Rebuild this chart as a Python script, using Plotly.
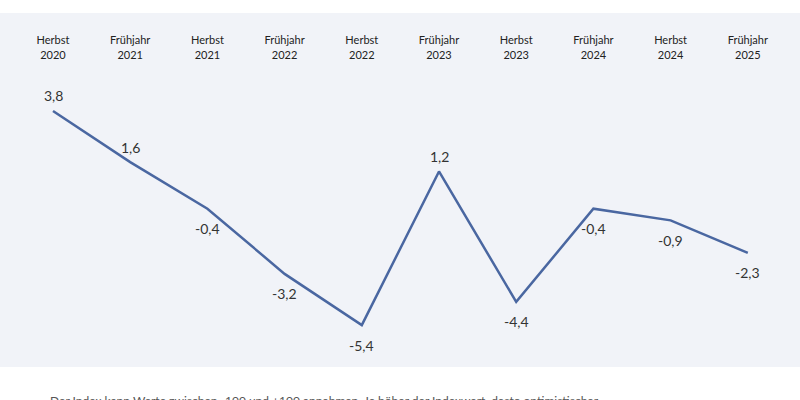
import plotly.graph_objects as go

seasons = ["Herbst", "Frühjahr", "Herbst", "Frühjahr", "Herbst", "Frühjahr", "Herbst", "Frühjahr", "Herbst", "Frühjahr"]
years = ["2020", "2021", "2021", "2022", "2022", "2023", "2023", "2024", "2024", "2025"]
values = [3.8, 1.6, -0.4, -3.2, -5.4, 1.2, -4.4, -0.4, -0.9, -2.3]
footnote = "Der Index kann Werte zwischen -100 und +100 annehmen. Je höher der Indexwert, desto optimistischer"

tick_labels = [f"{s}<br>{y}" for s, y in zip(seasons, years)]
xs = list(range(len(values)))

LINE = "#4a67a1"
BG = "#f1f3f8"
FONT = "Lato, 'Open Sans', sans-serif"

fig = go.Figure()
fig.add_trace(go.Scatter(
    x=xs, y=values, mode="lines",
    line=dict(color=LINE, width=2.5),
    hoverinfo="skip", showlegend=False,
))

for x, v in zip(xs, values):
    lab = f"{v:.1f}".replace(".", ",")
    fig.add_annotation(
        x=x, y=v, text=lab, showarrow=False,
        font=dict(family=FONT, size=14, color="#333333"),
        yshift=15 if v > 0 else -20,
        xanchor="center", yanchor="middle",
    )

# grey panel behind everything (extends above plot area to include tick labels)
top_px, plot_top, plot_bot = 13, 66, 367
y1_paper = (plot_bot - top_px) / (plot_bot - plot_top)
fig.add_shape(type="rect", xref="paper", yref="paper", x0=0, x1=1, y0=0, y1=y1_paper,
              fillcolor=BG, line=dict(width=0), layer="below")

fig.add_annotation(
    xref="paper", yref="paper", x=48 / 800, y=0, xanchor="left", yanchor="top",
    yshift=-24, text=footnote, showarrow=False,
    font=dict(family=FONT, size=12, color="#555555"),
)

fig.update_layout(
    width=800, height=400,
    margin=dict(l=0, r=0, t=plot_top, b=400 - plot_bot),
    paper_bgcolor="white", plot_bgcolor=BG,
    font=dict(family=FONT),
    xaxis=dict(
        side="top", tickvals=xs, ticktext=tick_labels,
        range=[-53 / 77.2, (800 - 53) / 77.2],
        showgrid=False, zeroline=False, showline=False, ticks="",
        tickfont=dict(family=FONT, size=11, color="#222222"),
        ticklabelstandoff=4,
        fixedrange=True,
    ),
    yaxis=dict(
        range=[-7.2, 5.73], visible=False, showgrid=False, zeroline=False,
        fixedrange=True,
    ),
)

fig.write_html("out.html", config={"displayModeBar": False},
               post_script="document.body.style.margin='0';document.body.style.overflow='hidden';")
